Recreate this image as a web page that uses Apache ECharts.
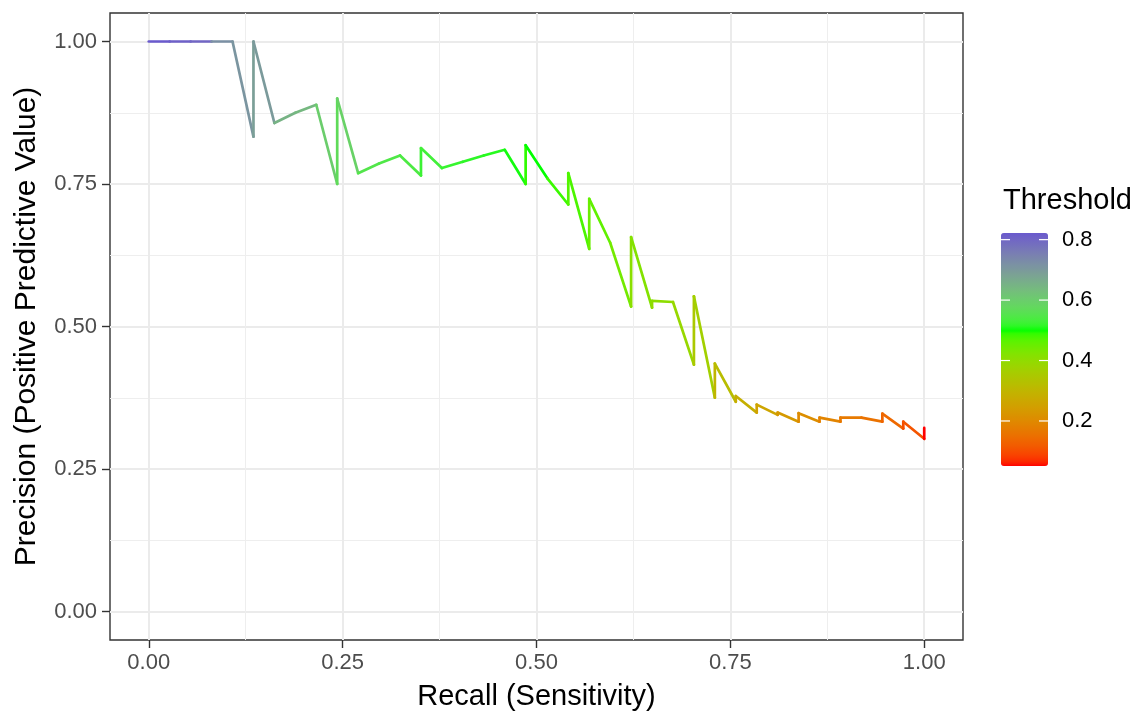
<!DOCTYPE html>
<html>
<head>
<meta charset="utf-8">
<script src="https://cdn.jsdelivr.net/npm/echarts@6/dist/echarts.min.js"></script>
<style>
  html, body { margin: 0; padding: 0; background: #ffffff; }
  #chart { width: 1133px; height: 716px; }
</style>
</head>
<body>
<div id="chart"></div>
<script>
// ---------------- data ----------------
const recall = [0, 0.027, 0.054, 0.081, 0.108, 0.135, 0.135, 0.162, 0.189, 0.216, 0.243, 0.243, 0.270, 0.297, 0.324, 0.351, 0.351, 0.378, 0.405, 0.432, 0.459, 0.486, 0.486, 0.514, 0.541, 0.541, 0.568, 0.568, 0.595, 0.622, 0.622, 0.649, 0.649, 0.676, 0.703, 0.703, 0.730, 0.730, 0.757, 0.757, 0.784, 0.784, 0.811, 0.811, 0.838, 0.838, 0.865, 0.865, 0.892, 0.892, 0.919, 0.946, 0.946, 0.973, 0.973, 1.000, 1.000];
const precision = [1, 1, 1, 1, 1, 0.833, 1, 0.857, 0.875, 0.889, 0.750, 0.900, 0.769, 0.786, 0.800, 0.765, 0.813, 0.778, 0.789, 0.800, 0.810, 0.750, 0.818, 0.760, 0.714, 0.769, 0.636, 0.724, 0.647, 0.535, 0.657, 0.533, 0.545, 0.543, 0.433, 0.553, 0.375, 0.435, 0.368, 0.378, 0.349, 0.363, 0.345, 0.349, 0.333, 0.348, 0.333, 0.340, 0.333, 0.340, 0.340, 0.333, 0.347, 0.321, 0.333, 0.303, 0.322];
const threshold = [0.822, 0.81, 0.80, 0.72, 0.71, 0.69, 0.70, 0.65, 0.64, 0.60, 0.57, 0.59, 0.55, 0.545, 0.54, 0.525, 0.53, 0.52, 0.515, 0.51, 0.505, 0.49, 0.50, 0.485, 0.47, 0.475, 0.45, 0.46, 0.44, 0.41, 0.42, 0.40, 0.405, 0.39, 0.35, 0.37, 0.30, 0.32, 0.28, 0.285, 0.25, 0.26, 0.23, 0.235, 0.20, 0.21, 0.18, 0.19, 0.165, 0.17, 0.155, 0.13, 0.14, 0.10, 0.11, 0.051, 0.07];

const xTicks = [0, 0.25, 0.5, 0.75, 1];
const yTicks = [0, 0.25, 0.5, 0.75, 1];
const xMinor = [0.125, 0.375, 0.625, 0.875];
const yMinor = [0.125, 0.375, 0.625, 0.875];
const legendTicks = [0.2, 0.4, 0.6, 0.8];
const colorLow = '#FF0000', colorMid = '#00FF00', colorHigh = '#6A5ACD';
const midValue = 0.5;

const xTitle = 'Recall (Sensitivity)';
const yTitle = 'Precision (Positive Predictive Value)';
const legendTitle = 'Threshold';

// ---------------- colour scale (Lab interpolation, like ggplot) ----------------
function s2l(c) { c /= 255; return c <= 0.04045 ? c / 12.92 : Math.pow((c + 0.055) / 1.055, 2.4); }
function l2s(c) { c = c <= 0.0031308 ? 12.92 * c : 1.055 * Math.pow(c, 1 / 2.4) - 0.055; return Math.round(Math.max(0, Math.min(1, c)) * 255); }
function hexToLab(hex) {
  const r = s2l(parseInt(hex.slice(1, 3), 16)), g = s2l(parseInt(hex.slice(3, 5), 16)), b = s2l(parseInt(hex.slice(5, 7), 16));
  const x = (0.4124 * r + 0.3576 * g + 0.1805 * b) / 0.95047;
  const y = 0.2126 * r + 0.7152 * g + 0.0722 * b;
  const z = (0.0193 * r + 0.1192 * g + 0.9505 * b) / 1.08883;
  const f = t => t > 0.008856 ? Math.cbrt(t) : 7.787 * t + 16 / 116;
  const fx = f(x), fy = f(y), fz = f(z);
  return [116 * fy - 16, 500 * (fx - fy), 200 * (fy - fz)];
}
function labToHex(lab) {
  const fy = (lab[0] + 16) / 116, fx = fy + lab[1] / 500, fz = fy - lab[2] / 200;
  const inv = f => { const f3 = f * f * f; return f3 > 0.008856 ? f3 : (f - 16 / 116) / 7.787; };
  const x = 0.95047 * inv(fx), y = inv(fy), z = 1.08883 * inv(fz);
  const r = 3.2406 * x - 1.5372 * y - 0.4986 * z;
  const g = -0.9689 * x + 1.8758 * y + 0.0415 * z;
  const b = 0.0557 * x - 0.2040 * y + 1.0570 * z;
  return 'rgb(' + l2s(r) + ',' + l2s(g) + ',' + l2s(b) + ')';
}
const thrMin = Math.min.apply(null, threshold);
const thrMax = Math.max.apply(null, threshold);
const labLow = hexToLab(colorLow), labMid = hexToLab(colorMid), labHigh = hexToLab(colorHigh);
function colorAt(v) {
  let a, b, t;
  if (v <= midValue) { a = labLow; b = labMid; t = (v - thrMin) / (midValue - thrMin); }
  else { a = labMid; b = labHigh; t = (v - midValue) / (thrMax - midValue); }
  t = Math.max(0, Math.min(1, t));
  return labToHex([a[0] + (b[0] - a[0]) * t, a[1] + (b[1] - a[1]) * t, a[2] + (b[2] - a[2]) * t]);
}
const N = 80;
const scaleColors = [];
for (let i = 0; i < N; i++) scaleColors.push(colorAt(thrMin + (thrMax - thrMin) * i / (N - 1)));

// ---------------- layout ----------------
const FONT = '"Liberation Sans", Arial, Helvetica, sans-serif';
const barLeft = 1001, barTop = 233, barW = 47, barH = 233;

const points = recall.map((r, i) => [r, precision[i], threshold[i]]);

const graphics = [];
graphics.push({
  type: 'text', left: 1003, top: 186, silent: true,
  style: { text: legendTitle, fontSize: 29, fill: '#000', fontFamily: FONT }
});
legendTicks.forEach(v => {
  const y = barTop + (thrMax - v) / (thrMax - thrMin) * barH;
  graphics.push({ type: 'line', silent: true, z: 100, shape: { x1: barLeft, y1: y, x2: barLeft + 9, y2: y }, style: { stroke: '#ffffff', lineWidth: 1.2 } });
  graphics.push({ type: 'line', silent: true, z: 100, shape: { x1: barLeft + barW - 9, y1: y, x2: barLeft + barW, y2: y }, style: { stroke: '#ffffff', lineWidth: 1.2 } });
  graphics.push({ type: 'text', silent: true, z: 100, x: 1062, y: y, style: { text: v.toFixed(1), fontSize: 22, fill: '#000', fontFamily: FONT, verticalAlign: 'middle', align: 'left' } });
});

const chart = echarts.init(document.getElementById('chart'), null, { renderer: 'canvas' });
chart.setOption({
  animation: false,
  backgroundColor: '#ffffff',
  textStyle: { fontFamily: FONT },
  grid: { left: 110, top: 13, width: 853, height: 631, show: true, borderColor: '#333333', borderWidth: 1.4, backgroundColor: 'transparent', containLabel: false },
  xAxis: [
    {
      type: 'value', min: -0.05, max: 1.05, position: 'bottom',
      axisLine: { show: false, onZero: false },
      axisTick: { show: true, customValues: xTicks, length: 8, lineStyle: { color: '#333333', width: 1.4 } },
      axisLabel: { customValues: xTicks, formatter: v => v.toFixed(2), fontSize: 22, color: '#4D4D4D', margin: 12, fontFamily: FONT },
      splitLine: { show: true, lineStyle: { color: '#EBEBEB', width: 2 } },
      name: xTitle, nameLocation: 'middle', nameGap: 42,
      nameTextStyle: { fontSize: 29, color: '#000000', fontFamily: FONT }
    },
    {
      type: 'value', min: -0.05, max: 1.05, position: 'top',
      axisLine: { show: false, onZero: false },
      axisTick: { show: false, customValues: xMinor },
      axisLabel: { show: false, customValues: xMinor },
      splitLine: { show: true, lineStyle: { color: '#EEEEEE', width: 1 } }
    }
  ],
  yAxis: [
    {
      type: 'value', min: -0.05, max: 1.05, position: 'left',
      axisLine: { show: false, onZero: false },
      axisTick: { show: true, customValues: yTicks, length: 8, lineStyle: { color: '#333333', width: 1.4 } },
      axisLabel: { customValues: yTicks, formatter: v => v.toFixed(2), fontSize: 22, color: '#4D4D4D', margin: 13, fontFamily: FONT },
      splitLine: { show: true, lineStyle: { color: '#EBEBEB', width: 2 } },
      name: yTitle, nameLocation: 'middle', nameGap: 68,
      nameTextStyle: { fontSize: 30, color: '#000000', fontFamily: FONT }
    },
    {
      type: 'value', min: -0.05, max: 1.05, position: 'right',
      axisLine: { show: false, onZero: false },
      axisTick: { show: false, customValues: yMinor },
      axisLabel: { show: false, customValues: yMinor },
      splitLine: { show: true, lineStyle: { color: '#EEEEEE', width: 1 } }
    }
  ],
  visualMap: [{
    type: 'continuous', seriesIndex: 0, dimension: 2,
    min: thrMin, max: thrMax, calculable: false, hoverLink: false, realtime: false,
    orient: 'vertical', left: barLeft, top: barTop, padding: 0,
    itemWidth: barW, itemHeight: barH, text: null, showLabel: false,
    inRange: { color: scaleColors }
  }],
  graphic: graphics,
  series: [{
    type: 'custom', xAxisIndex: 0, yAxisIndex: 0, silent: true, z: 5,
    data: points,
    encode: { x: 0, y: 1 },
    renderItem: function (params, api) {
      const i = params.dataIndexInside;
      if (i >= params.dataInsideLength - 1) return null;
      const p0 = api.coord([api.value(0, i), api.value(1, i)]);
      const p1 = api.coord([api.value(0, i + 1), api.value(1, i + 1)]);
      return {
        type: 'line',
        shape: { x1: p0[0], y1: p0[1], x2: p1[0], y2: p1[1] },
        style: { stroke: api.visual('color', i), lineWidth: 2.7, lineCap: 'round' }
      };
    }
  }]
});
</script>
</body>
</html>
